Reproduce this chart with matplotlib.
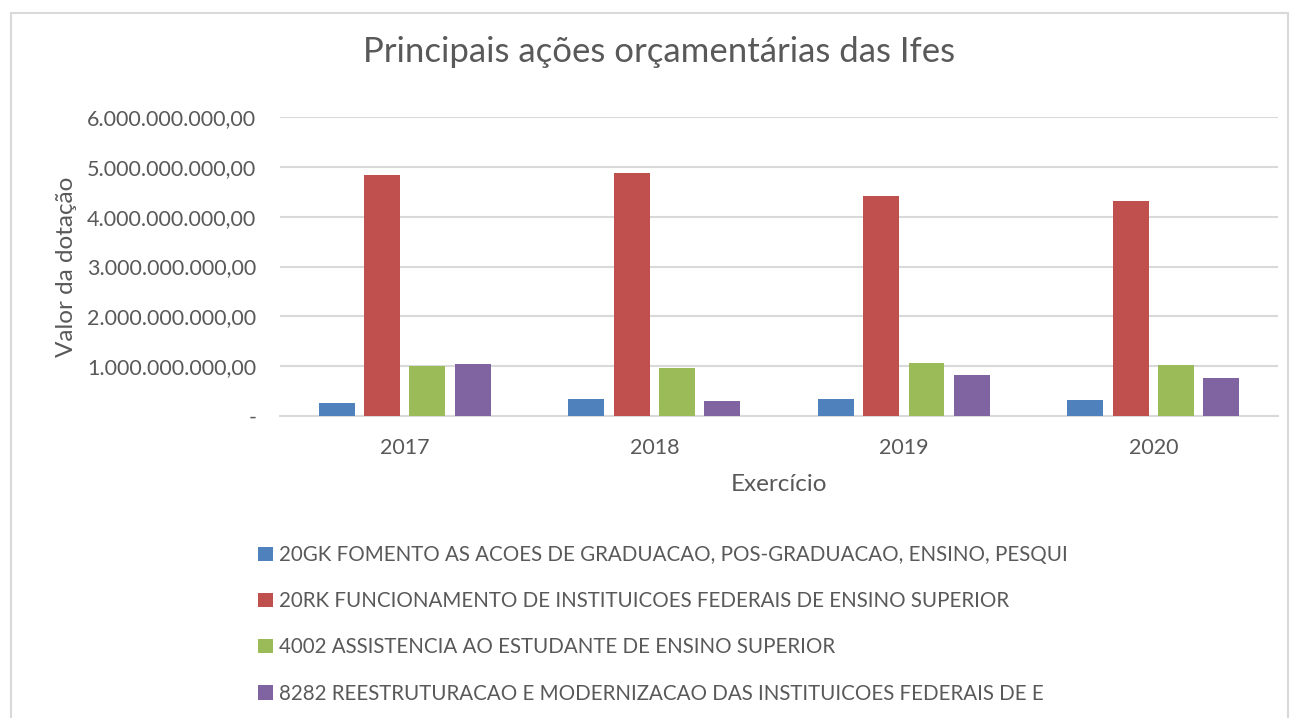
import numpy as np
import matplotlib.pyplot as plt
from matplotlib.patches import Rectangle
from matplotlib.ticker import FuncFormatter

plt.rcParams['font.family'] = ['Lato', 'DejaVu Sans']

anos = ['2017', '2018', '2019', '2020']
series = [
    '20GK FOMENTO AS ACOES DE GRADUACAO, POS-GRADUACAO, ENSINO, PESQUI',
    '20RK FUNCIONAMENTO DE INSTITUICOES FEDERAIS DE ENSINO SUPERIOR',
    '4002 ASSISTENCIA AO ESTUDANTE DE ENSINO SUPERIOR',
    '8282 REESTRUTURACAO E MODERNIZACAO DAS INSTITUICOES FEDERAIS DE E',
]
v_20gk = [0.255e9, 0.336e9, 0.336e9, 0.32e9]
v_20rk = [4.84e9, 4.88e9, 4.42e9, 4.32e9]
v_4002 = [1.00e9, 0.96e9, 1.06e9, 1.02e9]
v_8282 = [1.04e9, 0.296e9, 0.82e9, 0.76e9]
cores = ['#4F81BD', '#C0504D', '#9BBB59', '#8064A2']

txt = '#595959'
fig = plt.figure(figsize=(12.95, 7.18), dpi=100)
ax = fig.add_axes([0.2162, 0.4206, 0.7707, 0.4164])

x = np.arange(len(anos))
w = 0.144
passo = 0.182
for i, (vals, cor, nome) in enumerate(zip([v_20gk, v_20rk, v_4002, v_8282], cores, series)):
    ax.bar(x + (i - 1.5) * passo, vals, width=w, color=cor, label=nome, zorder=3)

ax.set_xlim(-0.5, 3.5)
ax.set_ylim(0, 6e9)
ax.set_yticks(np.arange(0, 6.01e9, 1e9))
ax.yaxis.set_major_formatter(FuncFormatter(
    lambda v, p: '-' if v == 0 else f'{v:,.2f}'.replace(',', 'X').replace('.', ',').replace('X', '.')))
ax.set_xticks(x)
ax.set_xticklabels(anos)
ax.grid(axis='y', color='#d9d9d9', linewidth=1.5, zorder=0)
for s in ['top', 'right', 'left']:
    ax.spines[s].set_visible(False)
ax.spines['bottom'].set_color('#d9d9d9')
ax.spines['bottom'].set_linewidth(1.5)
ax.tick_params(length=0, labelsize=15.5, colors=txt)
ax.tick_params(axis='y', pad=17)
ax.tick_params(axis='x', pad=16)
ax.set_xlabel('Exercício', fontsize=17.5, color=txt, labelpad=11)
ax.set_ylabel('Valor da dotação', fontsize=17.5, color=txt, labelpad=7)

fig.text(0.509, 0.928, 'Principais ações orçamentárias das Ifes', fontsize=25,
         color=txt, ha='center', va='center')

fig.legend(loc='upper left', bbox_to_anchor=(0.193, 0.252), frameon=False,
           fontsize=14.8, labelcolor=txt, handlelength=0.7, handleheight=0.7,
           handletextpad=0.3, labelspacing=1.27, borderaxespad=0)

fig.patches.append(Rectangle((11 / 1295, -0.01), 1277 / 1295, 1 - 13 / 718 + 0.01,
                             transform=fig.transFigure, fill=False,
                             edgecolor='#d9d9d9', linewidth=1.5))

fig.savefig('out.png', dpi=100)
